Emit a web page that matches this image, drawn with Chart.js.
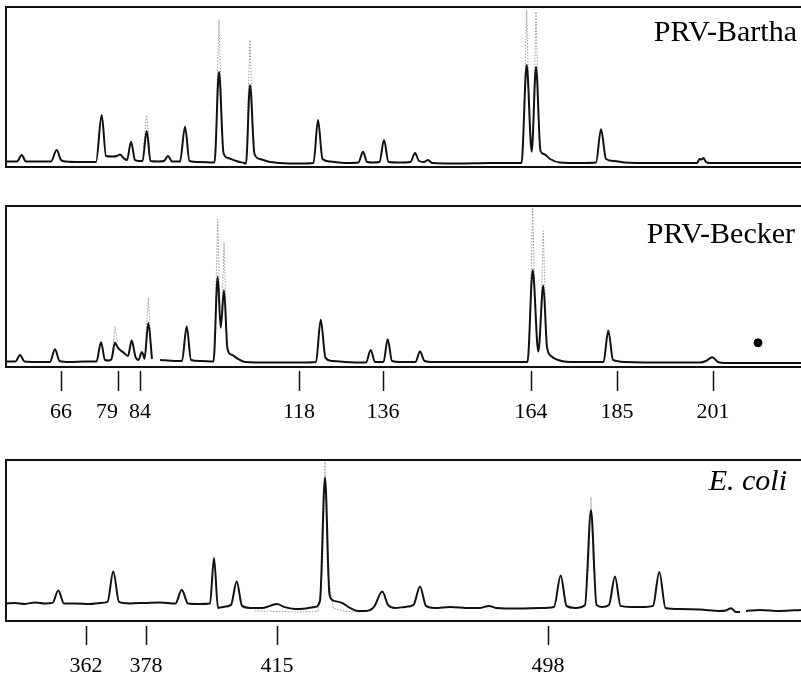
<!DOCTYPE html>
<html><head><meta charset="utf-8">
<script src="https://cdn.jsdelivr.net/npm/chart.js@4.4.1/dist/chart.umd.min.js"></script>
<style>
html,body{margin:0;padding:0;background:#fff;}
#wrap{position:relative;width:801px;height:677px;overflow:hidden;background:#fff;}
canvas{position:absolute;left:0;}
</style></head><body>
<div id="wrap">
<canvas id="c1" width="801" height="180" style="top:0px"></canvas>
<canvas id="c2" width="801" height="240" style="top:190px"></canvas>
<canvas id="c3" width="801" height="237" style="top:440px"></canvas>
</div>
<script>
// ---- DATA (scan position, signal intensity) ----
const panelTitles = ['PRV-Bartha', 'PRV-Becker', 'E. coli'];

const barthaTrace = [[6,5.5],[12,5.5],[17,5.5],[21.7,12],[26,5.5],[40,5.5],[51,5.5],[56.7,17],[61,7],[66,5.5],[80,5],[96,5],[101.7,52],[106,11],[112,10.5],[117,11],[120,12.5],[123.5,9],[127,7],[131,25.3],[135,7],[139,6],[142.5,6],[146.7,36],[150.5,6],[158,5.5],[164,6],[168,11],[172,5.5],[180,5.5],[185,40.3],[189.5,6],[200,5],[214.5,4.5],[219,95.3],[223.5,14],[228,9],[236,6],[244,4],[246,3.5],[250,82],[254.5,13],[260,8],[268,5.5],[280,4],[300,3.5],[313.5,4],[318,47],[322.5,8],[330,5.5],[345,4],[358.5,4.5],[363,15.3],[367,5],[373,4.5],[379.5,5],[384,27],[388.5,5],[398,4.5],[410.5,5],[415,14],[419,6],[424,5],[428,7],[432,4],[460,3.5],[490,4],[510,4],[521.5,4],[526.7,102],[531.7,15.3],[536,100.3],[540.5,16],[544,13],[550,8],[560,4.5],[580,4],[596,4.5],[601,37.7],[606,8],[614,6],[625,4.5],[650,4],[680,4],[697,4],[699.5,8],[701.5,7.5],[703.5,9],[706,5],[710,4],[740,4],[801,4]];
const barthaOverlay = [[143.5,20],[146.7,52],[149.5,20],[151,null],[216.5,60],[219,147],[221.5,60],[223,null],[247.5,50],[250,127],[252.5,50],[254,null],[524.5,70],[526.7,157],[529,60],[531,null],[533.8,60],[536,155.3],[538.3,60]];

const beckerTrace = [[6,5.5],[15.5,5.5],[20,12],[24.5,5.5],[40,5],[50,5],[55,17.7],[59.5,6],[70,5],[85,5.5],[96.5,5.5],[101,24.7],[105,7],[109,6.5],[111.5,8],[115,24],[118,19],[124,14],[128,11],[131.7,26.3],[135.5,10],[138.5,7],[140.5,12],[141.7,15],[143,13],[144.5,8],[148.3,43.7],[152,8],[156,null],[160,7],[175,6],[182,6],[186.7,40.3],[191,7],[200,6],[213.5,5.5],[217.7,89.7],[220.7,39],[224,76.3],[227.5,18],[232,12],[238,8],[245,5],[270,4.5],[300,4.5],[316,5],[320.7,47],[325.5,9],[332,6],[345,5],[366,4.5],[370.7,17],[375,5],[383.5,5],[387.7,27.7],[392,6],[400,5],[415.5,5],[420,15.3],[424.5,6],[432,5],[460,5],[500,5],[527.5,5],[532.7,96.3],[538.3,15.3],[543.3,81],[547,20],[551,11],[558,7],[570,5],[595,5],[603.5,5],[608.3,36.3],[613,7],[625,5],[650,4.5],[700,4.5],[706,6],[712.3,9.7],[718,5],[725,4],[801,4]];
const beckerOverlay = [[112.5,15],[115,40],[117.5,24],[119,null],[145.8,30],[148.3,68.7],[150.8,30],[152,null],[215.5,60],[217.7,147],[219.8,60],[221,null],[222,55],[224,123.7],[226,55],[228,null],[530.5,70],[532.7,158.7],[535,60],[537,null],[541.2,60],[543.3,135.3],[545.5,60]];
const beckerDot = [[758,24]];

const ecoliTrace = [[6,17.5],[15,18],[25,17],[35,18.5],[45,17.5],[52.5,18],[58.3,30.3],[64,17.5],[75,17.5],[90,17],[100,18],[107.5,19],[113.3,49.3],[119,19],[130,17.5],[145,18],[160,18.5],[175.5,17.5],[181.7,31],[188,17.5],[200,17],[210,17.5],[214,62.7],[218,13],[223,14],[231,16],[236.7,39.3],[242,15],[250,13],[262,13],[270,15],[277,17],[284,14],[295,12],[306,12.5],[315,14],[320,20],[325,142.7],[329.5,26],[334,20],[342,18],[350,13],[358,10],[366,10],[374,14],[382.3,29.3],[388,16],[395,13],[405,14],[413.5,16],[420,34.3],[426,15],[435,13],[450,14],[470,13],[480,13],[489,15],[496,13],[520,12.5],[540,13],[554,14],[560.7,45.3],[566.5,15],[575,13],[585,16],[591,110],[596.5,16],[602,14],[609,16],[615,44.3],[620.5,15],[630,14],[645,14],[653,15],[659.3,48.7],[665.5,13],[680,12],[700,11.5],[720,10],[726,10.5],[731,12.7],[736,9],[740,9],[741,null],[746,10],[760,11],[780,10],[801,11]];
const ecoliOverlay = [[255,10],[280,9.5],[300,9],[318,9.5],[322.5,50],[325,159.3],[327.5,50],[333,13],[345,9.5],[360,9],[372,10],[380,null],[588.5,50],[591,123],[593.5,50]];

const beckerMarkerPos = [61,118,140,299,383,531,617,713];
const beckerMarkerLabels = ['66','79','84','118','136','164','185','201'];
const ecoliMarkerPos = [86,146,277,548];
const ecoliMarkerLabels = ['362','378','415','498'];

// ---- RENDERING ----
const toXY = a => a.map(p => ({x: p[0], y: p[1]}));
const SERIF = '"Liberation Serif", "Times New Roman", Times, serif';

const framePlugin = {
  id: 'frame',
  afterDraw(chart, args, opts) {
    const {ctx, chartArea: a} = chart;
    ctx.save();
    ctx.strokeStyle = '#111';
    ctx.lineWidth = 2;
    ctx.beginPath();
    ctx.moveTo(a.right + 2, a.top);
    ctx.lineTo(a.left, a.top);
    ctx.lineTo(a.left, a.bottom);
    ctx.lineTo(a.right + 2, a.bottom);
    ctx.stroke();
    ctx.fillStyle = '#000';
    ctx.font = opts.font;
    ctx.textAlign = 'right';
    ctx.textBaseline = 'alphabetic';
    ctx.fillText(opts.title, a.right - opts.dx, a.top + opts.dy);
    ctx.restore();
  }
};

// a label whose neighbour marker is too close is set flush to the left of its tick
function tickLabel(pos, labels, i) {
  const next = pos[i + 1];
  if (next !== undefined && next - pos[i] < 26) return labels[i] + '    ';
  return labels[i];
}

function makeChart(id, cfg) {
  const datasets = [
    {data: toXY(cfg.trace), borderColor: '#111', borderWidth: 2, pointRadius: 0,
     cubicInterpolationMode: 'monotone', borderJoinStyle: 'round', fill: false, order: 1, spanGaps: false},
    {data: toXY(cfg.overlay), borderColor: '#9a9a9a', borderWidth: 1, borderDash: [1.5, 1.5], pointRadius: 0,
     tension: 0, fill: false, order: 2, spanGaps: false}
  ];
  if (cfg.dot) {
    datasets.push({type: 'scatter', data: toXY(cfg.dot), pointRadius: 4, pointBackgroundColor: '#000',
      pointBorderColor: '#000', showLine: false, order: 0});
  }
  const hasAxis = !!cfg.markers;
  return new Chart(document.getElementById(id), {
    type: 'line',
    data: {datasets},
    options: {
      responsive: false, animation: false, devicePixelRatio: 1,
      layout: {padding: cfg.padding, autoPadding: false},
      plugins: {legend: {display: false}, tooltip: {enabled: false},
        frame: {title: cfg.title, font: cfg.font, dx: cfg.dx, dy: cfg.dy}},
      scales: {
        x: {
          type: 'linear', min: 6, max: 801, display: hasAxis,
          afterBuildTicks: s => { if (hasAxis) s.ticks = cfg.markers.map(v => ({value: v})); },
          afterFit: s => { if (hasAxis) { s.height = cfg.axisH; s.paddingLeft = 0; s.paddingRight = 0; } },
          ticks: {autoSkip: false, maxRotation: 0, minRotation: 0, padding: cfg.labelPad || 0, color: '#000',
            font: {family: SERIF, size: 22}, callback: (v, i) => hasAxis ? tickLabel(cfg.markers, cfg.labels, i) : ''},
          grid: {drawOnChartArea: false, drawTicks: true, tickLength: (cfg.tickGap || 0) + (cfg.tickLen || 0),
            tickWidth: 1.5, tickColor: '#111', tickBorderDash: [0, cfg.tickGap || 0, cfg.tickLen || 0, 300]},
          border: {display: false}
        },
        y: {type: 'linear', min: 0, max: 160, display: false}
      }
    },
    plugins: [framePlugin]
  });
}

makeChart('c1', {trace: barthaTrace, overlay: barthaOverlay, title: panelTitles[0],
  font: '30px ' + SERIF, dx: 4, dy: 34, padding: {left: 6, right: 0, top: 7, bottom: 13}});
makeChart('c2', {trace: beckerTrace, overlay: beckerOverlay, dot: beckerDot, title: panelTitles[1],
  font: '30px ' + SERIF, dx: 6, dy: 37, padding: {left: 6, right: 0, top: 16, bottom: 0},
  markers: beckerMarkerPos, labels: beckerMarkerLabels, axisH: 63, tickGap: 4, tickLen: 20, labelPad: 8});
makeChart('c3', {trace: ecoliTrace, overlay: ecoliOverlay, title: panelTitles[2],
  font: 'italic 30px ' + SERIF, dx: 14, dy: 30, padding: {left: 6, right: 0, top: 20, bottom: 0},
  markers: ecoliMarkerPos, labels: ecoliMarkerLabels, axisH: 56, tickGap: 5, tickLen: 19, labelPad: 8});
</script>
</body></html>
